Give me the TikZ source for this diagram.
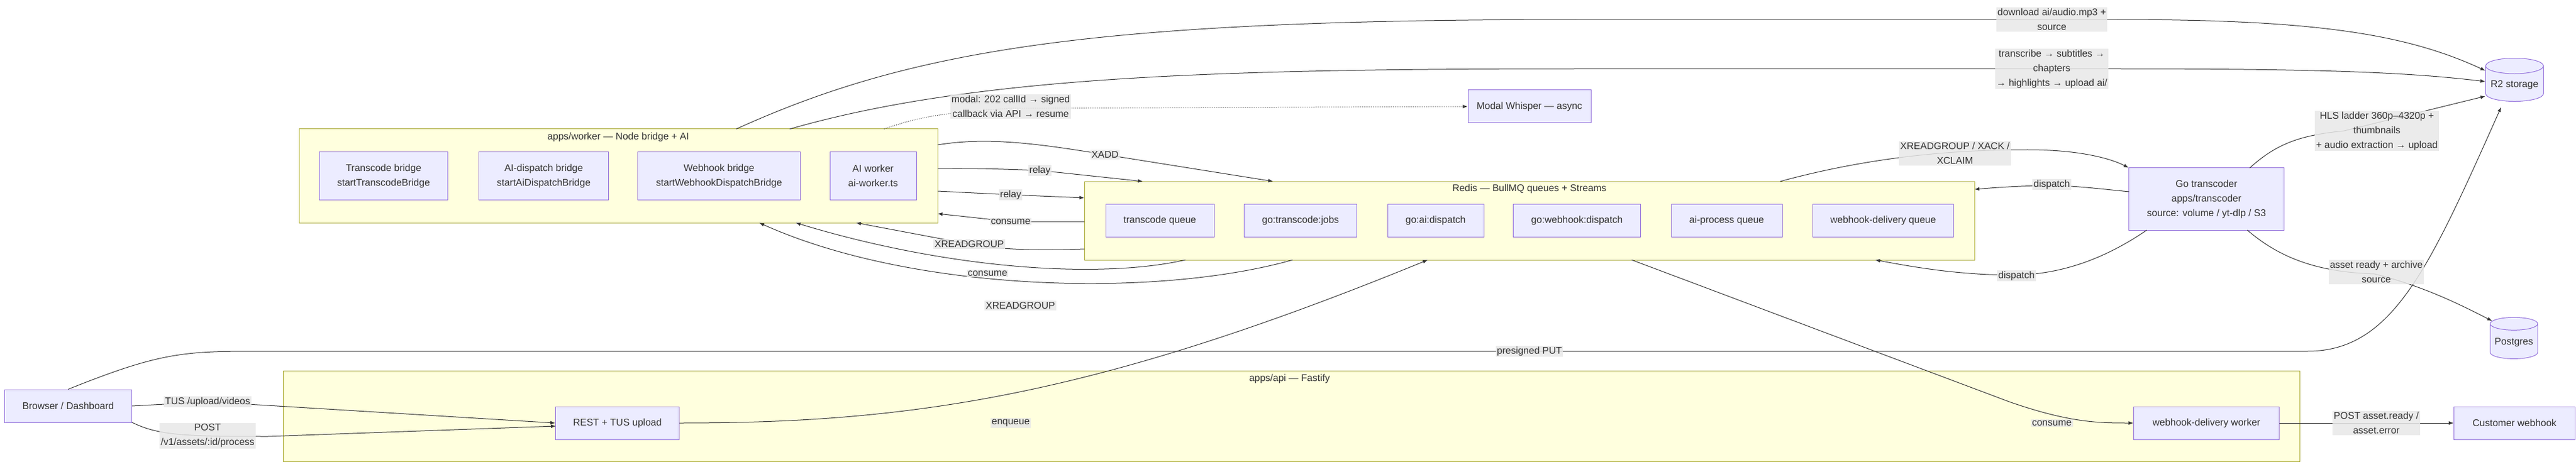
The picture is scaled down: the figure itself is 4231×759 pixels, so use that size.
\documentclass[tikz,border=0pt]{standalone}
\usepackage{fontspec}
\setmainfont{Liberation Sans}
\usetikzlibrary{shapes.geometric,arrows.meta}
\definecolor{boxfill}{HTML}{ECECFF}
\definecolor{boxline}{HTML}{9370DB}
\definecolor{grpfill}{HTML}{FFFFDE}
\definecolor{grpline}{HTML}{AAAA33}
\definecolor{ink}{HTML}{333333}
\definecolor{lblfill}{HTML}{E8E8E8}
\begin{document}
\begin{tikzpicture}[
  x=1pt,y=-1pt,
  every node/.style={font=\fontsize{16}{24}\selectfont,text=ink},
  box/.style={rectangle,draw=boxline,fill=boxfill,line width=1pt,align=center,minimum height=54pt},
  grp/.style={rectangle,draw=grpline,fill=grpfill,line width=1pt},
  db/.style={cylinder,shape border rotate=90,aspect=0.3,draw=boxline,fill=boxfill,line width=1pt},
  lbl/.style={fill=lblfill,fill opacity=0.85,text opacity=1,align=center,inner sep=2pt},
  arr/.style={draw=ink,line width=1pt,-{Latex[length=8pt,width=6pt]}},
  plain/.style={draw=ink,line width=1pt}
  ]
  \useasboundingbox (0,0) rectangle (4231,759);
  % clusters
  \node [grp,minimum width=1049pt,minimum height=154pt] (worker) at (1015.5,289) {};
  \node [anchor=north] at (1015.5,214) {apps/worker — Node bridge + AI};
  \node [grp,minimum width=1462pt,minimum height=129pt] (redis) at (2512,362.5) {};
  \node [anchor=north] at (2512,299) {Redis — BullMQ queues + Streams};
  \node [grp,minimum width=3312pt,minimum height=149pt] (api) at (2121,683.5) {};
  \node [anchor=north] at (2118,611) {apps/api — Fastify};
  % worker nodes
  \node [box,minimum width=211pt,minimum height=78pt] (tb) at (630,289) {Transcode bridge\\startTranscodeBridge};
  \node [box,minimum width=213pt,minimum height=78pt] (ad) at (893,289) {AI-dispatch bridge\\startAiDispatchBridge};
  \node [box,minimum width=267pt,minimum height=78pt] (wb) at (1181,289) {Webhook bridge\\startWebhookDispatchBridge};
  \node [box,minimum width=142pt,minimum height=78pt] (aw) at (1434,289) {AI worker\\ai-worker.ts};
  % redis queues
  \node [box,minimum width=178pt] (tq) at (1905,362) {transcode queue};
  \node [box,minimum width=185pt] (gtj) at (2136,362) {go:transcode:jobs};
  \node [box,minimum width=158pt] (gad) at (2358,362) {go:ai:dispatch};
  \node [box,minimum width=209pt] (gwd) at (2590,362) {go:webhook:dispatch};
  \node [box,minimum width=182pt] (apq) at (2836,362) {ai-process queue};
  \node [box,minimum width=231pt] (wdq) at (3093,362) {webhook-delivery queue};
  % other nodes
  \node [box,minimum width=202pt] (mw) at (2512,175) {Modal Whisper — async};
  \node [box,minimum width=255pt,minimum height=102pt] (go) at (3624,327) {Go transcoder\\apps/transcoder\\source: volume / yt-dlp / S3};
  \node [db,minimum width=95pt,minimum height=71pt] (r2) at (4130,140) {R2 storage};
  \node [db,minimum width=78pt,minimum height=68pt] (pg) at (4129,563) {Postgres};
  \node [box,minimum width=209pt] (br) at (112,667) {Browser / Dashboard};
  \node [box,minimum width=203pt] (rest) at (1014,695) {REST + TUS upload};
  \node [box,minimum width=239pt] (wdw) at (3624,695) {webhook-delivery worker};
  \node [box,minimum width=199pt] (cw) at (4130,695) {Customer webhook};
  % ports on cluster borders
  \coordinate (w1) at (1209,212);   \coordinate (w2) at (1297,212);
  \coordinate (w3) at (1452,212);   \coordinate (we1) at (1540,238);
  \coordinate (we2) at (1540,277);  \coordinate (we3) at (1540,314);
  \coordinate (we4) at (1540,351);  \coordinate (ws1) at (1406,366);
  \coordinate (ws2) at (1307,366);  \coordinate (ws3) at (1247,366);
  \coordinate (rn1) at (2091,298);  \coordinate (rn2) at (1877,298);
  \coordinate (rn3) at (2924,298);  \coordinate (rw1) at (1781,325);
  \coordinate (rw2) at (1781,364);  \coordinate (rw3) at (1781,409);
  \coordinate (rs1) at (1947,427);  \coordinate (rs2) at (2123,427);
  \coordinate (rs3) at (2345,427);  \coordinate (rs4) at (2680,427);
  \coordinate (rs5) at (3080,427);  \coordinate (re1) at (3243,311);
  \coordinate (r2a) at (4082,116);  \coordinate (r2b) at (4082,134);
  \coordinate (r2c) at (4082,158);  \coordinate (r2d) at (4108,176);
  % connectors
  \draw [arr] (w1) .. controls (1500,80) and (1800,32) .. (2600,32) -- (3471,32)
              .. controls (3800,32) and (3950,55) .. (r2a);
  \draw [arr] (w2) .. controls (1600,125) and (2000,113) .. (2600,113) -- (3471,113)
              .. controls (3800,113) and (3950,118) .. (r2b);
  \draw [arr,dotted] (w3) .. controls (1500,195) and (1540,185) .. (1660,178) -- (mw.west);
  \draw [arr] (we1) .. controls (1620,225) and (1700,235) .. (1815,254) -- (rn1);
  \draw [arr] (we2) .. controls (1600,276) and (1650,278) .. (1708,280) -- (rn2);
  \draw [arr] (we3) -- (1660,320) -- (rw1);
  \draw [arr] (rw2) -- (1660,364) -- (we4);
  \draw [arr] (rw3) .. controls (1700,412) and (1640,410) .. (1592,401) -- (ws1);
  \draw [arr] (rs1) .. controls (1800,460) and (1550,440) .. (ws2);
  \draw [arr] (rs2) .. controls (1900,490) and (1500,480) .. (ws3);
  \draw [arr] (br.east) -- (341,660) -- (rest.west);
  \draw [arr] (217,694) .. controls (260,715) and (300,717) .. (440,717) -- (913,700);
  \draw [arr] (br.north) .. controls (260,580) and (300,577) .. (420,577) -- (3790,577)
              .. controls (3930,577) and (3990,440) .. (r2d);
  \draw [arr] (rest.east) .. controls (1500,695) and (1800,650) .. (rs3);
  \draw [arr] (rs4) -- (3300,660) .. controls (3400,695) and (3450,695) .. (wdw.west);
  \draw [arr] (rn3) .. controls (3100,250) and (3250,246) .. (3330,246)
              .. controls (3420,246) and (3470,262) .. (go.north west);
  \draw [arr] (3497,315) .. controls (3430,308) and (3400,305) .. (3370,305)
              .. controls (3320,305) and (3280,308) .. (re1);
  \draw [arr] (3526,378) .. controls (3450,430) and (3380,450) .. (3312,452)
              .. controls (3220,452) and (3150,440) .. (rs5);
  \draw [arr] (3695,276) .. controls (3740,235) and (3780,222) .. (3850,215) -- (r2c);
  \draw [arr] (3691,378) .. controls (3740,420) and (3800,447) .. (3900,450)
              .. controls (3980,470) and (4040,500) .. (pg.north west);
  \draw [arr] (wdw.east) -- (cw.west);
  % edge labels
  \node [lbl] (dl) at (3370,32) {download ai/audio.mp3 +\\source};
  \node [lbl] (tl) at (3370,113) {transcribe → subtitles →\\chapters\\→ highlights → upload ai/};
  \node [lbl] (ml) at (1660,175) {modal: 202 callId → signed\\callback via API → resume};
  \node [lbl] (hl) at (3904,215) {HLS ladder 360p–4320p +\\thumbnails\\+ audio extraction → upload};
  \node [lbl] (xx) at (3211,252) {XREADGROUP / XACK /\\XCLAIM};
  \node [lbl] (xa) at (1815,254) {XADD};
  \node [lbl] (rl1) at (1708,280) {relay};
  \node [lbl] (rl2) at (1660,320) {relay};
  \node [lbl] (d1) at (3370,303) {dispatch};
  \node [lbl] (cs1) at (1660,364) {consume};
  \node [lbl] (xg1) at (1592,401) {XREADGROUP};
  \node [lbl] (cs2) at (1622,449) {consume};
  \node [lbl] (ar) at (3903,447) {asset ready + archive\\source};
  \node [lbl] (d2) at (3312,453) {dispatch};
  \node [lbl] (xg2) at (1676,502) {XREADGROUP};
  \node [lbl] (pp) at (2512,577) {presigned PUT};
  \node [lbl] (tus) at (341,660) {TUS /upload/videos};
  \node [lbl] (post) at (341,716) {POST\\/v1/assets/:id/process};
  \node [lbl] (enq) at (1660,695) {enqueue};
  \node [lbl] (cs3) at (3370,695) {consume};
  \node [lbl] (pa) at (3903,695) {POST asset.ready /\\asset.error};
\end{tikzpicture}
\end{document}
